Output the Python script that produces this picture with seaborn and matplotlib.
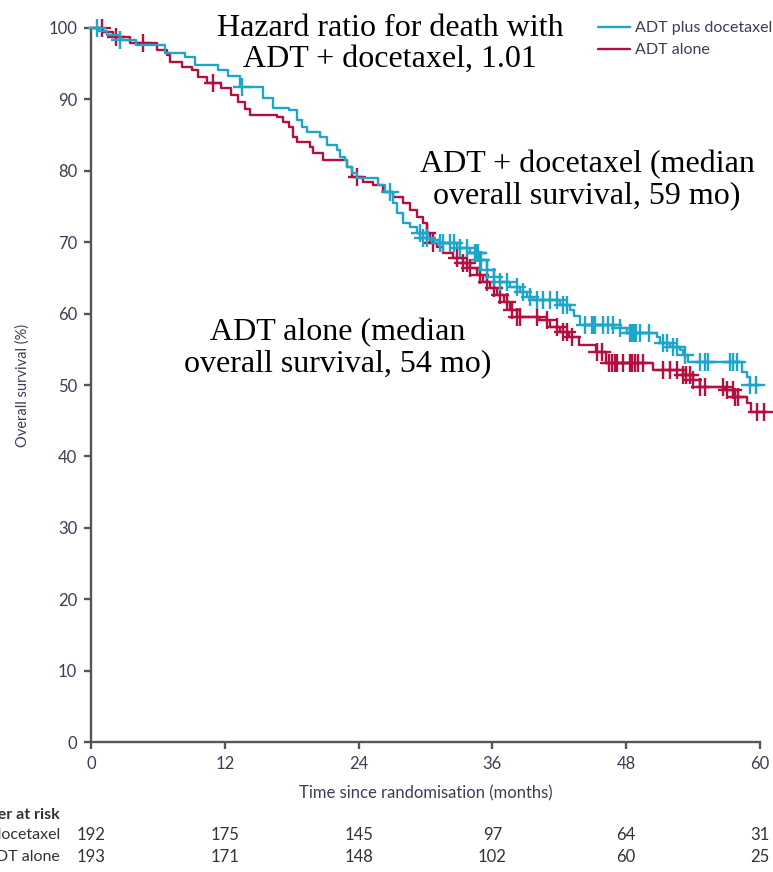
import numpy as np
import pandas as pd
import seaborn as sns
import matplotlib.pyplot as plt
import matplotlib.transforms as mtransforms
from matplotlib.lines import Line2D

# Kaplan-Meier steps (months, overall survival %)
doce_t = [0, 0.6, 1.4, 2.6, 4.0, 6.6, 8.4, 9.3, 11.4, 12.3, 13.4, 15.4, 16.3, 17.8, 18.5,
          18.9, 19.4, 20.5, 21.2, 22.1, 22.3, 22.8, 23.0, 23.4, 23.9, 25.7, 26.4, 27.1,
          27.4, 28.0, 28.6, 29.2, 29.8, 30.4, 31.3, 32.8, 34.0, 34.9, 35.5, 36.1, 36.7,
          37.6, 38.5, 39.1, 39.6, 42.1, 43.0, 43.3, 43.9, 47.4, 48.1, 50.8, 51.0, 51.9,
          52.8, 53.1, 53.5, 58.4, 58.8, 59.1, 60.0]
doce_s = [100, 99.6, 99.0, 98.3, 97.6, 96.5, 95.9, 94.8, 94.1, 93.3, 91.8, 90.2, 88.8, 88.5,
          87.1, 86.1, 85.4, 84.7, 83.6, 82.9, 81.9, 81.5, 80.5, 79.7, 79.0, 78.0, 77.0, 75.5,
          74.1, 72.7, 72.1, 71.3, 70.6, 70.3, 69.9, 69.2, 68.5, 67.5, 66.1, 65.1, 64.4,
          63.7, 63.0, 62.3, 61.9, 61.2, 60.5, 59.6, 58.4, 58.0, 57.3, 56.7, 55.9, 55.3,
          54.9, 54.2, 53.2, 51.8, 51.1, 50.0, 50.0]

alone_t = [0, 1.1, 2.0, 3.5, 5.9, 6.8, 7.1, 8.2, 9.1, 9.6, 10.4, 11.7, 12.6, 13.2, 13.8,
           14.3, 16.7, 17.2, 17.8, 18.1, 18.5, 19.6, 19.9, 20.8, 23.0, 23.4, 24.4, 25.3,
           26.2, 27.1, 28.0, 28.6, 29.2, 29.8, 30.1, 30.4, 31.0, 31.6, 32.5, 33.4, 34.0,
           34.6, 35.2, 35.8, 36.4, 37.0, 37.6, 38.2, 40.3, 41.2, 42.1, 42.9, 43.8, 45.3,
           46.2, 50.4, 53.1, 54.0, 54.6, 56.9, 57.8, 58.8, 59.2, 60.6]
alone_s = [100, 99.4, 98.7, 97.9, 96.9, 96.2, 95.2, 94.5, 94.1, 93.1, 92.3, 91.6, 90.6, 89.6,
           88.6, 87.8, 87.5, 86.8, 86.1, 84.7, 84.0, 83.3, 82.5, 81.5, 80.5, 79.2, 78.4,
           78.0, 77.0, 76.3, 75.5, 74.5, 73.5, 72.7, 71.3, 69.9, 69.3, 68.5, 67.8, 67.1,
           66.4, 65.4, 64.4, 63.6, 62.6, 61.6, 60.5, 59.5, 59.1, 58.1, 57.4, 56.7, 55.6,
           54.6, 53.1, 52.1, 51.4, 50.7, 49.7, 49.3, 48.3, 47.5, 46.2, 46.2]

# censoring times (months)
doce_cens = [0.5, 2.6, 13.5, 26.8, 29.8, 29.5, 30.1, 31.3, 31.6, 32.2, 32.6, 33.1, 33.7,
             34.4, 34.6, 34.7, 34.9, 35.0, 35.5, 36.1, 36.7, 37.3, 38.2, 38.7, 39.4, 40.0,
             40.5, 41.2, 41.8, 42.3, 42.7, 44.3, 44.9, 45.0, 45.2, 45.9, 46.4, 46.8, 47.4,
             48.3, 48.5, 48.7, 48.9, 49.2, 50.0, 51.3, 51.7, 52.2, 52.6, 53.3, 54.6, 55.1,
             55.3, 57.3, 57.6, 57.9, 59.1, 59.6]
alone_cens = [1.0, 2.2, 4.7, 10.9, 23.9, 30.1, 30.7, 32.8, 33.4, 33.7, 34.0, 34.9, 35.5,
              36.1, 36.7, 37.3, 37.8, 38.2, 38.5, 40.0, 40.9, 41.8, 42.3, 42.7, 43.1, 45.4,
              45.8, 46.5, 46.7, 47.0, 47.2, 47.7, 48.3, 48.5, 48.8, 49.1, 49.5, 51.3, 51.9,
              52.6, 53.1, 53.4, 53.7, 54.0, 54.6, 55.1, 56.7, 57.0, 57.6, 57.8, 58.0, 59.7,
              60.4]

groups = ["ADT plus docetaxel", "ADT alone"]
colors = ["#1ea5ca", "#b3103f"]
risk_times = [0, 12, 24, 36, 48, 60]
risk_doce = [192, 175, 145, 97, 64, 31]
risk_alone = [193, 171, 148, 102, 60, 25]


def step_value(t, s, x):
    idx = np.searchsorted(np.array(t), np.array(x), side="right") - 1
    return np.array(s)[idx]


sns.set_theme(style="ticks")
plt.rcParams["font.family"] = ["Lato", "DejaVu Sans"]
grey_txt = "#3d3d55"

fig = plt.figure(figsize=(7.73, 8.72), dpi=100)
ax = fig.add_axes([91 / 773, 130 / 872, 669 / 773, 714 / 872])

curves = pd.concat([
    pd.DataFrame({"time": doce_t, "surv": doce_s, "arm": groups[0]}),
    pd.DataFrame({"time": alone_t, "surv": alone_s, "arm": groups[1]}),
])
cens = pd.concat([
    pd.DataFrame({"time": doce_cens, "surv": step_value(doce_t, doce_s, doce_cens),
                  "arm": groups[0]}),
    pd.DataFrame({"time": alone_cens, "surv": step_value(alone_t, alone_s, alone_cens),
                  "arm": groups[1]}),
])

for arm, col in zip(groups[::-1], colors[::-1]):
    d = curves[curves.arm == arm]
    ax.step(d.time, d.surv, where="post", color=col, lw=1.7, clip_on=False, zorder=3)
    c = cens[cens.arm == arm]
    ax.plot(c.time, c.surv, ls="none", marker="+", ms=12.5, mew=1.7, color=col,
            clip_on=False, zorder=3)

ax.set_xlim(0, 60)
ax.set_ylim(0, 100)
ax.set_xticks(risk_times)
ax.set_yticks(range(0, 101, 10))
sns.despine(ax=ax)
for sp in ["left", "bottom"]:
    ax.spines[sp].set_color("#555555")
    ax.spines[sp].set_linewidth(1.7)
ax.tick_params(axis="both", direction="out", length=5, width=1.7, color="#555555",
               labelsize=12, labelcolor=grey_txt, pad=5)
ax.set_xlabel("Time since randomisation (months)", fontsize=12, color=grey_txt,
              labelpad=10)
ax.set_ylabel("Overall survival (%)", fontsize=10.5, color=grey_txt)
ax.yaxis.set_label_coords(-0.092, 0.5)

# legend
handles = [Line2D([0], [0], color=c, lw=1.7) for c in colors]
fig.legend(handles, groups, loc="upper right", bbox_to_anchor=(772 / 773, 1 - 21 / 872),
           frameon=False, fontsize=11.5, handlelength=2.0, handletextpad=0.3,
           labelspacing=0.5, borderaxespad=0, borderpad=0, labelcolor=grey_txt)

# annotations
serif = dict(family=["Liberation Serif", "DejaVu Serif"], fontsize=23, color="black",
             ha="center", va="center", multialignment="center", linespacing=1.1)
ax.text(26.8, 97.8, "Hazard ratio for death with\nADT + docetaxel, 1.01", **serif)
ax.text(44.5, 78.7, "ADT + docetaxel (median\noverall survival, 59 mo)", **serif)
ax.text(22.1, 55.2, "ADT alone (median\noverall survival, 54 mo)", **serif)

# number at risk table
trans = mtransforms.blended_transform_factory(ax.transData, fig.transFigure)
lab_x = 60 / 773
fig.text(lab_x, 1 - 815 / 872, "Number at risk", ha="right", va="center",
         fontsize=11.5, fontweight="bold", color="#333333")
for row, (name, vals) in enumerate(zip(groups, [risk_doce, risk_alone])):
    yy = 1 - (835 + 22 * row) / 872
    fig.text(lab_x, yy, name, ha="right", va="center", fontsize=11.5, color="#333333")
    for t, v in zip(risk_times, vals):
        ax.text(t, yy, str(v), transform=trans, ha="center", va="center",
                fontsize=12, color="#333333")

fig.savefig("out.png", dpi=100)
